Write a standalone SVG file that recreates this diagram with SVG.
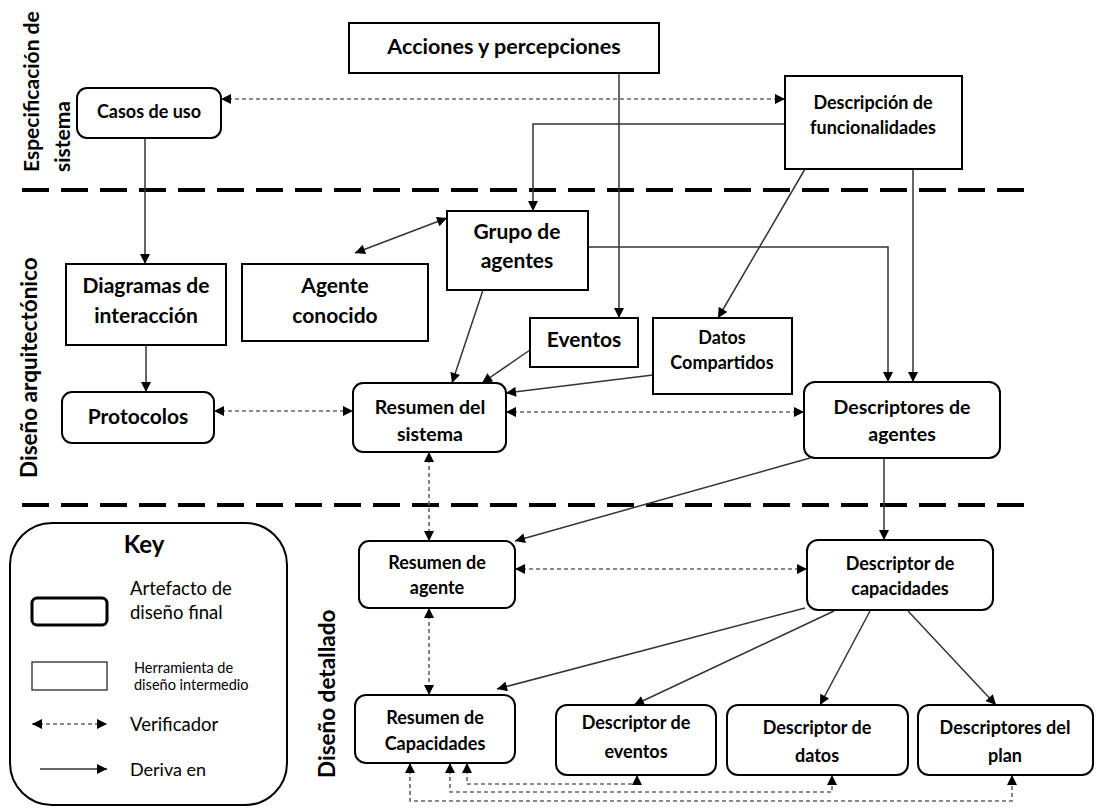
<svg xmlns="http://www.w3.org/2000/svg" width="1096" height="809" viewBox="0 0 1096 809">
  <style>
    text { font-family: Lato, "Liberation Sans", sans-serif; font-weight: bold; fill: #000; text-anchor: middle; }
    .final { fill: #fff; stroke: #000; stroke-width: 2; }
    .tool { fill: #fff; stroke: #000; stroke-width: 2; }
    .derive { fill: none; stroke: #333; stroke-width: 1.5; }
    .verify { fill: none; stroke: #666; stroke-width: 1.6; stroke-dasharray: 4 3; }
    .phase { fill: none; stroke: #000; stroke-width: 4; stroke-dasharray: 27 12; }
    .side { font-size: 22.5px; text-anchor: start; }
    .t21 { font-size: 21px; }
    .t19 { font-size: 19.5px; }
    .t18 { font-size: 18px; }
    .key { font-weight: normal; text-anchor: start; }
  </style>
  <defs>
    <marker id="ah" viewBox="0 0 10 10" refX="10" refY="5" markerWidth="11" markerHeight="10" markerUnits="userSpaceOnUse" orient="auto-start-reverse">
      <path d="M0,0 L10,5 L0,10 z" fill="#000"/>
    </marker>
  </defs>

  <!-- phase separators -->
  <g id="phases">
    <path class="phase" d="M22,190 H1030"/>
    <path class="phase" d="M22,505 H1036"/>
    <text class="side" transform="translate(39,172) rotate(-90)" style="font-size:21px">Especificación de</text>
    <text class="side" transform="translate(70,172) rotate(-90)" style="font-size:21px">sistema</text>
    <text class="side" transform="translate(37,478) rotate(-90)">Diseño arquitectónico</text>
    <text class="side" transform="translate(335,778) rotate(-90)">Diseño detallado</text>
  </g>

  <!-- connectors -->
  <g id="connectors">
    <path class="verify" d="M221,99 H785" marker-start="url(#ah)" marker-end="url(#ah)"/>
    <path class="derive" d="M785,124 H533 V211" marker-end="url(#ah)"/>
    <path class="derive" d="M619,73 V318" marker-end="url(#ah)"/>
    <path class="derive" d="M145,138 V264" marker-end="url(#ah)"/>
    <path class="derive" d="M146,345 V392" marker-end="url(#ah)"/>
    <path class="derive" d="M355,253 L447,218" marker-start="url(#ah)" marker-end="url(#ah)"/>
    <path class="derive" d="M483,290 L452,383" marker-end="url(#ah)"/>
    <path class="derive" d="M588,247 H888 V382" marker-end="url(#ah)"/>
    <path class="derive" d="M805,169 L718,318" marker-end="url(#ah)"/>
    <path class="derive" d="M913,169 V382" marker-end="url(#ah)"/>
    <path class="derive" d="M530,350 L482,383" marker-end="url(#ah)"/>
    <path class="derive" d="M653,375 L506,393" marker-end="url(#ah)"/>
    <path class="verify" d="M214,411 H353" marker-start="url(#ah)" marker-end="url(#ah)"/>
    <path class="verify" d="M506,412 H804" marker-start="url(#ah)" marker-end="url(#ah)"/>
    <path class="verify" d="M429,452 V541" marker-start="url(#ah)" marker-end="url(#ah)"/>
    <path class="derive" d="M810,458 L515,541" marker-end="url(#ah)"/>
    <path class="derive" d="M884,458 V540" marker-end="url(#ah)"/>
    <path class="verify" d="M515,569 H807" marker-start="url(#ah)" marker-end="url(#ah)"/>
    <path class="verify" d="M429,608 V695" marker-start="url(#ah)" marker-end="url(#ah)"/>
    <path class="derive" d="M805,608 L497,689" marker-end="url(#ah)"/>
    <path class="derive" d="M834,611 L634,705" marker-end="url(#ah)"/>
    <path class="derive" d="M870,611 L820,705" marker-end="url(#ah)"/>
    <path class="derive" d="M908,611 L996,705" marker-end="url(#ah)"/>
    <path class="verify" d="M467,763 V784 H637 V775" marker-start="url(#ah)" marker-end="url(#ah)"/>
    <path class="verify" d="M450,763 V792 H832 V775" marker-start="url(#ah)" marker-end="url(#ah)"/>
    <path class="verify" d="M410,763 V801 H1012 V775" marker-start="url(#ah)" marker-end="url(#ah)"/>
  </g>

  <!-- system specification -->
  <g id="acciones">
    <rect class="tool" x="349" y="23" width="310" height="50"/>
    <text x="504" y="54" style="font-size:21.5px">Acciones y percepciones</text>
  </g>
  <g id="casos-de-uso">
    <rect class="final" x="77" y="88" width="144" height="50" rx="10"/>
    <text class="t18" x="149" y="118">Casos de uso</text>
  </g>
  <g id="descripcion-funcionalidades">
    <rect class="tool" x="785" y="76" width="177" height="93"/>
    <text class="t18" x="873" y="109">Descripción de</text>
    <text class="t18" x="873" y="134">funcionalidades</text>
  </g>

  <!-- architectural design -->
  <g id="grupo-agentes">
    <rect class="tool" x="447" y="211" width="141" height="79"/>
    <text class="t21" x="517" y="239">Grupo de</text>
    <text class="t21" x="517" y="268">agentes</text>
  </g>
  <g id="diagramas-interaccion">
    <rect class="tool" x="66" y="264" width="160" height="81"/>
    <text class="t21" x="146" y="293">Diagramas de</text>
    <text class="t21" x="146" y="323">interacción</text>
  </g>
  <g id="agente-conocido">
    <rect class="tool" x="242" y="264" width="186" height="77"/>
    <text class="t21" x="335" y="293">Agente</text>
    <text class="t21" x="335" y="323">conocido</text>
  </g>
  <g id="protocolos">
    <rect class="final" x="62" y="392" width="152" height="51" rx="10"/>
    <text class="t21" x="138" y="424">Protocolos</text>
  </g>
  <g id="eventos">
    <rect class="tool" x="530" y="318" width="108" height="49"/>
    <text class="t21" x="584" y="347">Eventos</text>
  </g>
  <g id="datos-compartidos">
    <rect class="tool" x="653" y="318" width="139" height="76"/>
    <text class="t18" x="722" y="344">Datos</text>
    <text class="t18" x="722" y="369">Compartidos</text>
  </g>
  <g id="resumen-sistema">
    <rect class="final" x="353" y="383" width="153" height="69" rx="10"/>
    <text class="t19" x="430" y="414">Resumen del</text>
    <text class="t19" x="430" y="441">sistema</text>
  </g>
  <g id="descriptores-agentes">
    <rect class="final" x="804" y="382" width="196" height="76" rx="11"/>
    <text class="t19" x="902" y="414">Descriptores de</text>
    <text class="t19" x="902" y="441">agentes</text>
  </g>

  <!-- detailed design -->
  <g id="resumen-agente">
    <rect class="final" x="359" y="541" width="156" height="67" rx="10"/>
    <text class="t18" x="437" y="569">Resumen de</text>
    <text class="t18" x="437" y="594">agente</text>
  </g>
  <g id="descriptor-capacidades">
    <rect class="final" x="807" y="540" width="186" height="70" rx="11"/>
    <text class="t18" x="900" y="570">Descriptor de</text>
    <text class="t18" x="900" y="595">capacidades</text>
  </g>
  <g id="resumen-capacidades">
    <rect class="final" x="355" y="695" width="160" height="68" rx="11"/>
    <text class="t18" x="435" y="724">Resumen de</text>
    <text class="t18" x="435" y="750">Capacidades</text>
  </g>
  <g id="descriptor-eventos">
    <rect class="final" x="556" y="705" width="160" height="70" rx="11"/>
    <text class="t18" x="636" y="729">Descriptor de</text>
    <text class="t18" x="636" y="758">eventos</text>
  </g>
  <g id="descriptor-datos">
    <rect class="final" x="727" y="705" width="181" height="70" rx="11"/>
    <text class="t18" x="817" y="734">Descriptor de</text>
    <text class="t18" x="817" y="762">datos</text>
  </g>
  <g id="descriptores-plan">
    <rect class="final" x="918" y="705" width="175" height="70" rx="11"/>
    <text class="t18" x="1005" y="734">Descriptores del</text>
    <text class="t18" x="1005" y="762">plan</text>
  </g>

  <!-- legend -->
  <g id="key">
    <rect x="10" y="523" width="277" height="282" rx="42" fill="#fff" stroke="#000" stroke-width="2"/>
    <text x="144" y="553" style="font-size:24px">Key</text>
    <rect x="32" y="598" width="75" height="27" rx="5" fill="#fff" stroke="#000" stroke-width="3"/>
    <text class="key" x="130" y="595" style="font-size:18.5px">Artefacto de</text>
    <text class="key" x="130" y="619" style="font-size:18.5px">diseño final</text>
    <rect x="32" y="662" width="75" height="28" fill="#fff" stroke="#444" stroke-width="1.5"/>
    <text class="key" x="134" y="673" style="font-size:14.5px">Herramienta de</text>
    <text class="key" x="134" y="690" style="font-size:14.5px">diseño intermedio</text>
    <path class="verify" d="M32,724 H107" stroke="#000" marker-start="url(#ah)" marker-end="url(#ah)"/>
    <text class="key" x="130" y="731" style="font-size:18.5px">Verificador</text>
    <path class="derive" d="M40,769 H107" marker-end="url(#ah)"/>
    <text class="key" x="130" y="776" style="font-size:18px">Deriva en</text>
  </g>
</svg>
